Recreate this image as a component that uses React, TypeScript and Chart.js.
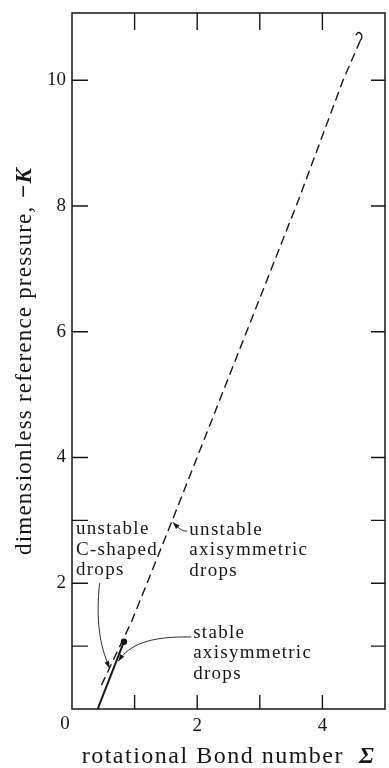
import React, { useEffect, useRef } from "react";
import { Chart, registerables } from "chart.js";
Chart.register(...registerables);

// ---- data ----
const solidX = [0.41, 0.83];
const solidY = [0, 1.07];
const dashedX = [0.47, 0.96, 1.59, 3.62, 4.33, 4.6];
const dashedY = [0.38, 1.41, 2.97, 8.1, 10.0, 10.62];
const hookX = [4.6, 4.63, 4.58, 4.53];
const hookY = [10.62, 10.7, 10.76, 10.72];
const dotX = [0.83];
const dotY = [1.07];

const xMin = 0;
const xMax = 5;
const yMin = 0;
const yMax = 11.07;
const xTickMarks = [1, 2, 3, 4];
const yTickMarks = [1, 2, 3, 4, 6, 8, 10];
const xTickLabels = [0, 2, 4];
const yTickLabels = [2, 4, 6, 8, 10];

const xTitle = "rotational Bond number";
const xTitleSym = "Σ";
const yTitle = "dimensionless reference pressure,";
const yTitleSym = "−K";

const noteLines = [
  ["unstable", "C-shaped", "drops"],
  ["unstable", "axisymmetric", "drops"],
  ["stable", "axisymmetric", "drops"],
];
const noteX = [0.063, 1.874, 1.935];
const noteY = [2.86, 2.85, 1.21];
// leader curves: [start, ctrl1, ctrl2, tip] in data units
const leaderX = [
  [0.44, 0.38, 0.44, 0.6],
  [1.84, 1.75, 1.68, 1.61],
  [1.906, 1.23, 0.91, 0.74],
];
const leaderY = [
  [2.0, 1.41, 1.02, 0.65],
  [2.83, 2.82, 2.9, 2.97],
  [1.145, 1.16, 1.02, 0.76],
];

const pts = (xs: number[], ys: number[]) => xs.map((x, i) => ({ x, y: ys[i] }));

const FAMILY = "Liberation Serif";
const SERIF = `"${FAMILY}", serif`;
const INK = "#161616";

const decor = {
  id: "decor",
  afterDraw(chart: any) {
    const { ctx, chartArea: ca, scales } = chart;
    const xs = scales.x;
    const ys = scales.y;
    ctx.save();
    ctx.strokeStyle = INK;
    ctx.fillStyle = INK;
    // frame
    ctx.lineWidth = 1.5;
    ctx.strokeRect(ca.left, ca.top, ca.right - ca.left, ca.bottom - ca.top);
    // ticks (inward)
    ctx.lineWidth = 1.4;
    ctx.beginPath();
    xTickMarks.forEach((v) => {
      const p = xs.getPixelForValue(v);
      ctx.moveTo(p, ca.bottom);
      ctx.lineTo(p, ca.bottom - 14);
      ctx.moveTo(p, ca.top);
      ctx.lineTo(p, ca.top + 17);
    });
    yTickMarks.forEach((v) => {
      const p = ys.getPixelForValue(v);
      ctx.moveTo(ca.left, p);
      ctx.lineTo(ca.left + 16, p);
      ctx.moveTo(ca.right, p);
      ctx.lineTo(ca.right - 14, p);
    });
    ctx.stroke();

    // corner "0" label
    ctx.font = `19px ${SERIF}`;
    ctx.textAlign = "center";
    ctx.textBaseline = "alphabetic";
    ctx.fillText(String(xTickLabels[0]), xs.getPixelForValue(0) - 7, ca.bottom + 20);

    // annotations
    ctx.font = `19px ${SERIF}`;
    (ctx as any).letterSpacing = "1.3px";
    ctx.textAlign = "left";
    ctx.textBaseline = "middle";
    noteLines.forEach((lines, i) => {
      const x0 = xs.getPixelForValue(noteX[i]);
      const y0 = ys.getPixelForValue(noteY[i]);
      lines.forEach((t, j) => ctx.fillText(t, x0, y0 + j * 20.5));
    });
    (ctx as any).letterSpacing = "0px";

    // leaders with arrow heads
    ctx.lineWidth = 0.9;
    leaderX.forEach((lx, i) => {
      const ly = leaderY[i];
      const P = lx.map((x, k) => [xs.getPixelForValue(x), ys.getPixelForValue(ly[k])]);
      ctx.beginPath();
      ctx.moveTo(P[0][0], P[0][1]);
      ctx.bezierCurveTo(P[1][0], P[1][1], P[2][0], P[2][1], P[3][0], P[3][1]);
      ctx.stroke();
      const dx = P[3][0] - P[2][0];
      const dy = P[3][1] - P[2][1];
      const L = Math.hypot(dx, dy) || 1;
      const ux = dx / L, uy = dy / L;
      const len = 7, hw = 2.4;
      ctx.beginPath();
      ctx.moveTo(P[3][0], P[3][1]);
      ctx.lineTo(P[3][0] - ux * len - uy * hw, P[3][1] - uy * len + ux * hw);
      ctx.lineTo(P[3][0] - ux * len + uy * hw, P[3][1] - uy * len - ux * hw);
      ctx.closePath();
      ctx.fill();
    });

    // x title
    const cx = (ca.left + ca.right) / 2;
    ctx.textBaseline = "alphabetic";
    ctx.textAlign = "left";
    (ctx as any).letterSpacing = "1.5px";
    ctx.font = `24px ${SERIF}`;
    const w1 = ctx.measureText(xTitle + "  ").width;
    ctx.font = `bold italic 24px ${SERIF}`;
    const w2 = ctx.measureText(xTitleSym).width;
    const sx = cx - (w1 + w2) / 2;
    ctx.font = `24px ${SERIF}`;
    ctx.fillText(xTitle + "  ", sx, 763);
    ctx.font = `bold italic 24px ${SERIF}`;
    ctx.fillText(xTitleSym, sx + w1, 763);

    // y title (rotated)
    const cy = (ca.top + ca.bottom) / 2;
    ctx.save();
    ctx.translate(31, cy);
    ctx.rotate(-Math.PI / 2);
    (ctx as any).letterSpacing = "1.2px";
    ctx.font = `23px ${SERIF}`;
    const v1 = ctx.measureText(yTitle + " ").width;
    ctx.font = `bold italic 23px ${SERIF}`;
    const v2 = ctx.measureText(yTitleSym).width;
    const sy = -(v1 + v2) / 2;
    ctx.font = `23px ${SERIF}`;
    ctx.fillText(yTitle + " ", sy, 0);
    ctx.font = `bold italic 23px ${SERIF}`;
    ctx.fillText(yTitleSym, sy + v1, 0);
    ctx.restore();

    ctx.restore();
  },
};

export default function App() {
  const ref = useRef<HTMLCanvasElement>(null);
  useEffect(() => {
    if (!ref.current) return;
    let chart: Chart | null = null;
    let cancelled = false;
    const build = () => {
      if (cancelled || !ref.current) return;
      chart = new Chart(ref.current, {
        type: "scatter",
        data: {
          datasets: [
            {
              data: pts(dashedX, dashedY),
              showLine: true,
              borderColor: INK,
              borderWidth: 1.4,
              borderDash: [9, 5],
              pointRadius: 0,
            },
            {
              data: pts(hookX, hookY),
              showLine: true,
              borderColor: INK,
              borderWidth: 1.3,
              tension: 0.5,
              pointRadius: 0,
            },
            {
              data: pts(solidX, solidY),
              showLine: true,
              borderColor: INK,
              borderWidth: 2,
              pointRadius: 0,
            },
            {
              data: pts(dotX, dotY),
              showLine: false,
              pointRadius: 3.2,
              pointBackgroundColor: INK,
              pointBorderColor: INK,
              pointBorderWidth: 0,
            },
          ],
        },
        options: {
          animation: false,
          responsive: false,
          devicePixelRatio: 1,
          layout: { padding: { top: 13, right: 0, left: 0, bottom: 0 } },
          plugins: { legend: { display: false }, tooltip: { enabled: false } },
          scales: {
            x: {
              type: "linear",
              min: xMin,
              max: xMax,
              grid: { display: false, drawTicks: false },
              border: { display: false },
              ticks: {
                stepSize: 1,
                autoSkip: false,
                maxRotation: 0,
                padding: 6,
                color: INK,
                font: { family: SERIF, size: 19 },
                callback: (v: any) =>
                  v !== 0 && xTickLabels.includes(v) ? String(v) : "",
              },
              afterFit: (s: any) => {
                s.height = 59;
                s.paddingLeft = 0;
                s.paddingRight = 0;
              },
            },
            y: {
              type: "linear",
              min: yMin,
              max: yMax,
              grid: { display: false, drawTicks: false },
              border: { display: false },
              ticks: {
                stepSize: 1,
                autoSkip: false,
                padding: 6,
                color: INK,
                font: { family: SERIF, size: 19 },
                callback: (v: any) => (yTickLabels.includes(v) ? String(v) : ""),
              },
              afterFit: (s: any) => {
                s.width = 72;
                s.paddingTop = 0;
                s.paddingBottom = 0;
              },
            },
          },
        },
        plugins: [decor],
      });
    };
    const fonts: any = (document as any).fonts;
    if (fonts && fonts.load) {
      Promise.all([
        fonts.load(`19px "${FAMILY}"`),
        fonts.load(`bold italic 24px "${FAMILY}"`),
      ])
        .catch(() => null)
        .then(build);
    } else {
      build();
    }
    return () => {
      cancelled = true;
      if (chart) chart.destroy();
    };
  }, []);
  return (
    <div style={{ position: "fixed", left: 0, top: 0, width: 389, height: 768, background: "#fff" }}>
      <canvas ref={ref} width={389} height={768} style={{ display: "block" }} />
    </div>
  );
}
